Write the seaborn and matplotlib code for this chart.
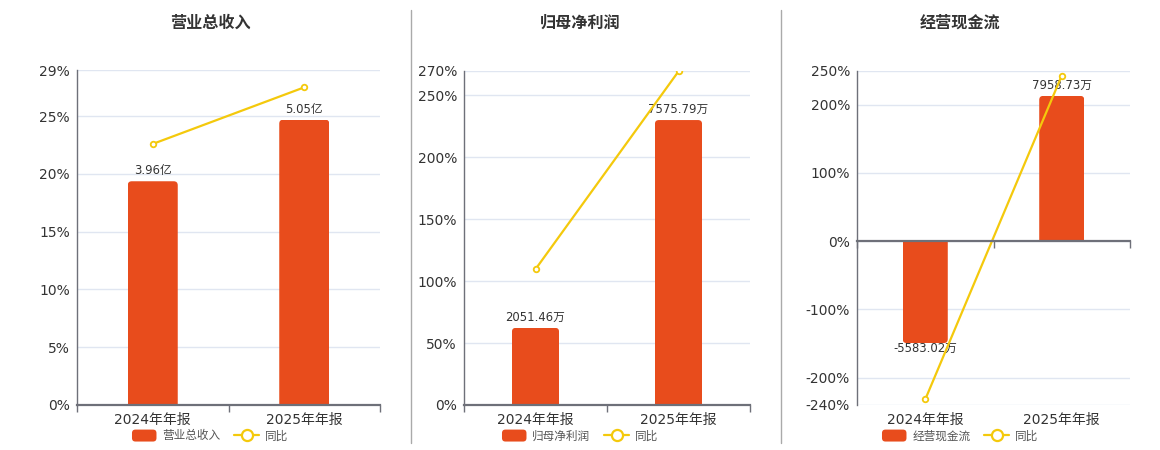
import matplotlib
matplotlib.use("Agg")
import matplotlib.pyplot as plt
import seaborn as sns
from matplotlib.legend_handler import HandlerPatch
from matplotlib.lines import Line2D
from matplotlib.patches import FancyBboxPatch, Patch, Rectangle
from matplotlib.ticker import FixedFormatter, FixedLocator, NullFormatter

# ---- data ----
periods = ["2024年年报", "2025年年报"]

revenue = [3.96, 5.05]  # 亿
revenue_text = ["3.96亿", "5.05亿"]
revenue_yoy = [22.6, 27.5]  # %

profit = [2051.46, 7575.79]  # 万
profit_text = ["2051.46万", "7575.79万"]
profit_yoy = [109.6, 269.3]

cashflow = [-5583.02, 7958.73]  # 万
cashflow_text = ["-5583.02万", "7958.73万"]
cashflow_yoy = [-231.8, 242.6]

revenue_ticks = [0, 5, 10, 15, 20, 25, 29]
profit_ticks = [0, 50, 100, 150, 200, 250, 270]
cashflow_ticks = [-240, -200, -100, 0, 100, 200, 250]

BAR = "#E84C1C"
LINE = "#F4C90C"
AXIS = "#6E7079"
GRID = "#E0E6F1"
TEXT = "#333333"

W, H = 1160, 450

sns.set_theme(style="white")
plt.rcParams["font.family"] = ["DejaVu Sans", "Noto Sans CJK SC"]
cjk = ["Noto Sans CJK SC", "DejaVu Sans"]

fig = plt.figure(figsize=(W / 100, H / 100), dpi=100)


class RoundPatchHandler(HandlerPatch):
    def create_artists(self, legend, orig_handle, xdescent, ydescent,
                       width, height, fontsize, trans):
        p = FancyBboxPatch((-xdescent, -ydescent), width, height,
                           boxstyle="round,pad=0,rounding_size=2.5",
                           facecolor=orig_handle.get_facecolor(),
                           edgecolor="none", transform=trans)
        return [p]


def round_bars(ax, w_px, h_px, radius=4):
    """Swap seaborn's rectangles for ones with rounded outer corners."""
    x0, x1 = ax.get_xlim()
    y0, y1 = ax.get_ylim()
    xpu = (x1 - x0) / w_px
    ypu = (y1 - y0) / h_px
    for bar in list(ax.patches):
        x, bw = bar.get_x(), bar.get_width()
        base, h = bar.get_y(), bar.get_height()
        lo, hi = min(base, base + h), max(base, base + h)
        ry = radius * ypu
        if h >= 0:
            blo, bhi = lo - ry, hi
        else:
            blo, bhi = lo, hi + ry
        p = FancyBboxPatch((x, blo), bw, bhi - blo,
                           boxstyle=f"round,pad=0,rounding_size={radius * xpu}",
                           mutation_aspect=ypu / xpu,
                           facecolor=BAR, edgecolor="none", zorder=2)
        ax.add_patch(p)
        p.set_clip_path(Rectangle((x, lo), bw, hi - lo, transform=ax.transData))
        bar.set_visible(False)


def panel(rect, title, values, labels, yoy, ticks, bar_peak, title_x):
    left, top, right, bottom = rect
    pos = [left / W, 1 - bottom / H, (right - left) / W, (bottom - top) / H]
    w_px, h_px = right - left, bottom - top
    lo, hi = ticks[0], ticks[-1]

    base = fig.add_axes(pos)
    base.set_ylim(lo, hi)
    base.set_xlim(-0.5, 1.5)
    base.set_yticks(ticks)
    base.set_yticklabels([f"{t}%" for t in ticks])
    base.yaxis.grid(True, color=GRID, linewidth=1)
    base.xaxis.grid(False)
    for s in ["top", "right", "bottom"]:
        base.spines[s].set_visible(False)
    base.spines["left"].set_color(AXIS)
    base.spines["left"].set_linewidth(1)
    base.tick_params(axis="y", length=0, pad=5, labelsize=10, labelcolor=TEXT)

    # bars on a hidden scale of their own
    ax_bar = base.twinx()
    k = max(abs(v) for v in values) / bar_peak
    sns.barplot(x=periods, y=values, ax=ax_bar, color=BAR, width=0.33,
                saturation=1, zorder=2)
    ax_bar.set_ylim(lo * k, hi * k)
    ax_bar.set_xlim(-0.5, 1.5)
    ax_bar.set_yticks([])
    ax_bar.set_ylabel("")
    for s in ax_bar.spines.values():
        s.set_visible(False)
    up = [t if v >= 0 else "" for t, v in zip(labels, values)]
    down = [t if v < 0 else "" for t, v in zip(labels, values)]
    ax_bar.bar_label(ax_bar.containers[0], labels=up, padding=3,
                     fontsize=8.4, color=TEXT)
    ax_bar.bar_label(ax_bar.containers[0], labels=down, padding=-1,
                     fontsize=8.4, color=TEXT)
    round_bars(ax_bar, w_px, h_px)

    # year-on-year line on top
    ax_line = base.twinx()
    sns.pointplot(x=periods, y=yoy, ax=ax_line, color=LINE, errorbar=None,
                  marker="o", markersize=4, markerfacecolor="white",
                  markeredgecolor=LINE, markeredgewidth=1.3, linewidth=1.6)
    ax_line.set_ylim(lo, hi)
    ax_line.set_xlim(-0.5, 1.5)
    ax_line.set_yticks([])
    ax_line.set_ylabel("")
    ax_line.xaxis.set_visible(True)
    for s in ["top", "right", "left"]:
        ax_line.spines[s].set_visible(False)
    ax_line.spines["bottom"].set_position(("data", 0))
    ax_line.spines["bottom"].set_color(AXIS)
    ax_line.spines["bottom"].set_linewidth(1.6)

    # shared x ticker: boundaries as major, categories as minor labels
    ax_line.xaxis.set_major_locator(FixedLocator([-0.5, 0.5, 1.5]))
    ax_line.xaxis.set_major_formatter(NullFormatter())
    ax_line.xaxis.set_minor_locator(FixedLocator([0, 1]))
    ax_line.xaxis.set_minor_formatter(FixedFormatter(periods))
    ax_line.xaxis.set_ticks_position("bottom")
    ax_line.tick_params(axis="x", which="major", bottom=True, length=5,
                        width=1, color=AXIS, direction="out", labelbottom=False)
    ax_line.tick_params(axis="x", which="minor", bottom=False, length=0,
                        labelbottom=False)
    base.tick_params(axis="x", which="major", length=0, labelbottom=False)
    base.tick_params(axis="x", which="minor", length=0, pad=6,
                     labelsize=10, labelcolor=TEXT, labelbottom=True)
    base.set_xlabel("")
    ax_bar.set_xlabel("")
    ax_line.set_xlabel("")

    fig.text(title_x / W, 1 - 23 / H, title, ha="center", va="center",
             fontsize=11.6, fontweight="black", color=TEXT, family=cjk)
    handles = [Patch(facecolor=BAR, edgecolor="none", label=title),
               Line2D([], [], color=LINE, linewidth=1.6, marker="o",
                      markersize=8, markerfacecolor="white",
                      markeredgecolor=LINE, markeredgewidth=1.6, label="同比")]
    fig.legend(handles=handles, loc="center", ncol=2, frameon=False,
               bbox_to_anchor=(title_x / W, 1 - 436 / H),
               prop={"family": cjk, "size": 8.4}, labelcolor="#555555",
               handlelength=2.1, handleheight=1.2, handletextpad=0.5,
               columnspacing=1.2,
               handler_map={Patch: RoundPatchHandler()})


panel((77, 70, 380, 405), "营业总收入", revenue, revenue_text, revenue_yoy,
      revenue_ticks, 24.7, 210)
panel((464, 70.5, 750, 405), "归母净利润", profit, profit_text, profit_yoy,
      profit_ticks, 230, 580)
panel((857, 70.5, 1130, 405), "经营现金流", cashflow, cashflow_text, cashflow_yoy,
      cashflow_ticks, 212.8, 960)

for xs in (411, 781):
    fig.add_artist(Line2D([xs / W, xs / W], [1 - 10 / H, 1 - 443 / H],
                          color="#AAAAAA", linewidth=1))

fig.savefig("out.png", dpi=100)
